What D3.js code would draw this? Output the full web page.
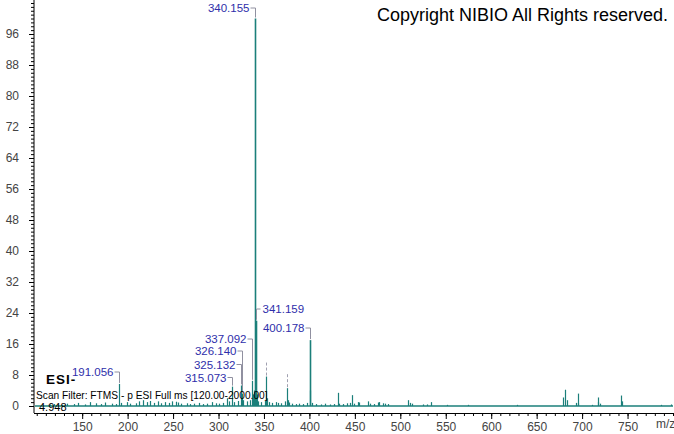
<!DOCTYPE html>
<html>
<head>
<meta charset="utf-8">
<script src="https://cdn.jsdelivr.net/npm/d3@7"></script>
<style>
  body { margin: 0; background: #fff; }
  svg { display: block; font-family: "Liberation Sans", Arial, sans-serif; }
</style>
</head>
<body>
<svg id="chart" width="674" height="434"></svg>
<script>
// peak list (m/z, relative abundance)
const peakMz = [115.0, 119.0, 128.0, 133.0, 141.0, 145.0, 153.0, 159.0, 165.5, 171.0, 175.0, 183.0, 187.0,
  191.056, 193.0, 199.0, 203.0, 209.0, 213.0, 217.0, 221.0, 225.0, 229.0, 233.0, 237.0, 241.0, 245.0,
  249.0, 253.0, 255.0, 259.0, 265.0, 269.0, 273.0, 279.0, 283.0, 287.0, 293.0, 297.0, 301.0, 305.0,
  309.0, 311.0, 315.073, 317.0, 321.0, 325.132, 326.140, 327.0, 331.0, 335.0, 337.092, 338.0, 339.0,
  340.155, 341.159, 342.0, 343.0, 347.0, 351.0, 352.0, 353.0, 355.0, 359.0, 363.0, 365.0, 369.0, 373.0,
  375.0, 376.0, 377.0, 381.0, 385.0, 389.0, 393.0, 397.0, 400.178, 401.0, 403.0, 407.0, 413.0, 417.0,
  423.0, 427.0, 431.0, 433.0, 437.0, 441.0, 445.0, 446.5, 449.0, 453.0, 455.0, 465.0, 467.0, 471.0,
  475.0, 477.0, 481.0, 483.0, 487.0, 509.0, 511.0, 513.0, 525.0, 529.0, 534.0, 551.0, 575.0, 628.0,
  679.0, 681.5, 683.0, 693.0, 695.0, 696.0, 711.0, 717.0, 718.0, 720.0, 743.0, 744.0, 787.0, 798.0];
const peakInt = [0.4, 0.5, 0.3, 0.6, 0.5, 0.8, 0.4, 1.0, 0.7, 0.5, 0.9, 0.6, 0.5,
  5.7, 0.8, 1.0, 0.6, 0.7, 1.2, 1.5, 1.0, 1.3, 0.8, 1.2, 0.7, 1.0, 0.8,
  1.2, 1.1, 0.9, 0.6, 0.7, 0.5, 0.6, 0.8, 0.5, 0.6, 1.0, 0.7, 0.6, 0.8,
  2.0, 1.2, 5.0, 1.0, 1.3, 5.3, 3.2, 1.5, 1.2, 1.5, 6.5, 3.0, 4.0,
  100, 22, 3.0, 1.2, 1.0, 1.3, 7.6, 2.0, 1.0, 0.8, 1.0, 0.8, 0.7, 1.2,
  4.6, 1.5, 0.9, 0.6, 0.5, 0.6, 0.5, 0.8, 17, 4.0, 0.8, 0.5, 0.4, 0.6,
  0.4, 0.5, 3.4, 0.6, 0.5, 0.7, 0.8, 2.8, 0.6, 1.0, 0.9, 1.2, 0.6, 0.5,
  0.9, 1.0, 0.7, 0.6, 0.5, 1.5, 0.8, 0.6, 0.4, 0.4, 1.0, 0.3, 0.3, 0.3,
  2.2, 4.2, 1.5, 0.8, 3.2, 0.7, 0.3, 2.2, 1.0, 0.6, 2.7, 1.2, 0.3, 0.4];

// annotated peaks
const labelMz = [340.155, 341.159, 400.178, 337.092, 326.140, 325.132, 315.073, 191.056];
const labelInt = [100, 22, 17, 6.5, 3.2, 5.3, 5.0, 5.7];
const labelText = ["340.155", "341.159", "400.178", "337.092", "326.140", "325.132", "315.073", "191.056"];
// peaks flagged but left without a label
const flagMz = [352.0, 375.0];

const yTicks = [0, 8, 16, 24, 32, 40, 48, 56, 64, 72, 80, 88, 96];
const xTicks = [150, 200, 250, 300, 350, 400, 450, 500, 550, 600, 650, 700, 750];

// label placement: label height in px, side of the bracket
const labelLayout = {
  "340.155": {y: 8, side: "left"},
  "341.159": {y: 309, side: "right"},
  "400.178": {y: 328, side: "left"},
  "337.092": {y: 339, side: "left"},
  "326.140": {y: 351, side: "left"},
  "325.132": {y: 364.5, side: "left"},
  "315.073": {y: 377.5, side: "left"},
  "191.056": {y: 372, side: "left"}
};

const svg = d3.select("#chart");
const teal = "#1b7f7a";
const axisX = 34, axisY = 413;

const x = d3.scaleLinear([97, 800], [axisX, 673]);
const y = d3.scaleLinear([0, 100], [406, 18.5]);

// axes
const minorY = d3.range(0, 105, 1);
svg.append("g").attr("transform", `translate(${axisX},0)`)
  .call(d3.axisLeft(y).tickValues(minorY).tickSize(3).tickFormat(""))
  .call(g => g.select(".domain").remove());
svg.append("g").attr("transform", `translate(${axisX},0)`)
  .call(d3.axisLeft(y).tickValues(yTicks).tickSize(5).tickPadding(10).tickFormat(d3.format("d")))
  .call(g => g.select(".domain").remove())
  .call(g => g.selectAll("text").attr("fill", "#444").style("font-size", "12px"));

const minorX = d3.range(100, 801, 10);
svg.append("g").attr("transform", `translate(0,${axisY})`)
  .call(d3.axisBottom(x).tickValues(minorX).tickSize(3).tickFormat(""))
  .call(g => g.select(".domain").remove());
svg.append("g").attr("transform", `translate(0,${axisY})`)
  .call(d3.axisBottom(x).tickValues(xTicks).tickSize(6).tickPadding(3).tickFormat(d3.format("d")))
  .call(g => g.select(".domain").remove())
  .call(g => g.selectAll("text").attr("fill", "#444").style("font-size", "12px"));

svg.append("line").attr("x1", axisX).attr("x2", axisX).attr("y1", 0).attr("y2", axisY)
  .attr("stroke", "#000");
svg.append("line").attr("x1", axisX).attr("x2", 673).attr("y1", axisY + 0.5).attr("y2", axisY + 0.5)
  .attr("stroke", "#000");

svg.append("text").attr("x", 656).attr("y", axisY + 15).attr("fill", "#444")
  .style("font-size", "12px").text("m/z");

// baseline and sticks
svg.append("line").attr("x1", axisX + 1).attr("x2", 673).attr("y1", y(0)).attr("y2", y(0))
  .attr("stroke", teal).attr("stroke-width", 1.5);

svg.append("g").selectAll("line")
  .data(peakMz.map((m, i) => ({mz: m, v: peakInt[i]})))
  .join("line")
  .attr("x1", d => Math.round(x(d.mz)) + 0.5).attr("x2", d => Math.round(x(d.mz)) + 0.5)
  .attr("y1", y(0)).attr("y2", d => y(d.v))
  .attr("stroke", teal).attr("stroke-width", d => d.v > 10 ? 1.6 : 1.2);

// flagged peaks (dashed marker above)
svg.append("g").selectAll("line")
  .data(flagMz.map(m => ({mz: m, v: peakInt[peakMz.indexOf(m)]})))
  .join("line")
  .attr("x1", d => Math.round(x(d.mz)) + 0.5).attr("x2", d => Math.round(x(d.mz)) + 0.5)
  .attr("y1", d => y(d.v) - 1).attr("y2", d => y(d.v) - 14)
  .attr("stroke", "#a0a0b0").attr("stroke-dasharray", "3,2");

// labels with brackets
const lab = svg.append("g");
labelMz.forEach((m, i) => {
  const t = labelText[i];
  const L = labelLayout[t];
  const px = Math.round(x(m)) + 0.5;
  const top = y(labelInt[i]);
  const path = L.side === "left"
    ? `M${px - 5},${L.y}H${px}V${top - 1}`
    : `M${px + 4},${L.y}H${px}V${top - 1}`;
  lab.append("path").attr("d", path).attr("fill", "none").attr("stroke", "#9090a0");
  lab.append("text")
    .attr("x", L.side === "left" ? px - 6 : px + 6)
    .attr("y", L.y + 4)
    .attr("text-anchor", L.side === "left" ? "end" : "start")
    .attr("fill", "#2e2eaa").style("font-size", "11.5px").text(t);
});

// annotations
svg.append("text").attr("x", 377).attr("y", 21).attr("fill", "#000")
  .style("font-size", "18px").text("Copyright NIBIO All Rights reserved.");
svg.append("text").attr("x", 46).attr("y", 384).attr("fill", "#000")
  .style("font-size", "13.5px").style("font-weight", "bold").style("letter-spacing", "1px").text("ESI-");
svg.append("text").attr("x", 36).attr("y", 399).attr("fill", "#000")
  .style("font-size", "10.2px").text("Scan Filter: FTMS - p ESI Full ms [120.00-2000.00]");
svg.append("text").attr("x", 39).attr("y", 411).attr("fill", "#000")
  .style("font-size", "11px").text("4.948");
</script>
</body>
</html>
